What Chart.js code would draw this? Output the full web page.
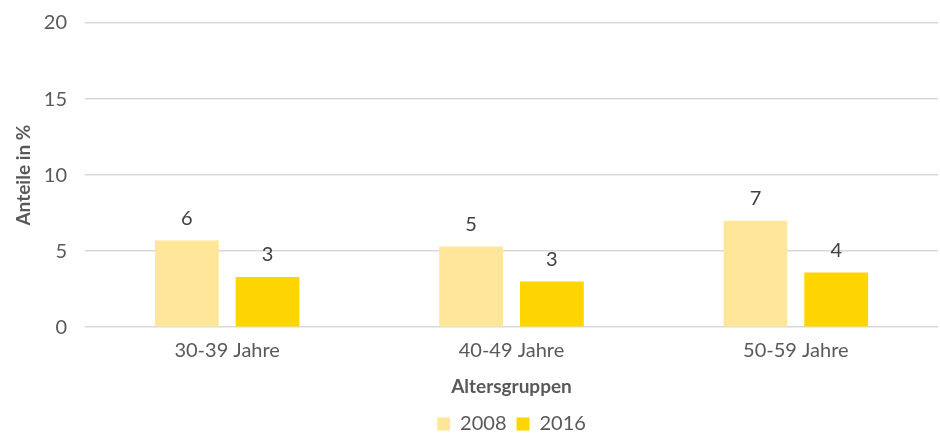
<!DOCTYPE html>
<html>
<head>
<meta charset="utf-8">
<script src="https://cdn.jsdelivr.net/npm/chart.js@4/dist/chart.umd.min.js"></script>
<style>
  html, body { margin: 0; padding: 0; background: #ffffff; }
  #wrap { width: 940px; height: 434px; }
</style>
</head>
<body>
<div id="wrap"><canvas id="c" width="940" height="434"></canvas></div>
<script>
// Age groups and shares (%) per survey year
const categories = ['30-39 Jahre', '40-49 Jahre', '50-59 Jahre'];
const share2008 = [5.7, 5.3, 7.0];
const share2016 = [3.3, 3.0, 3.6];
const seriesNames = ['2008', '2016'];
const yTicks = [0, 5, 10, 15, 20];

const FONT = 'Lato, "Open Sans", sans-serif';
const TEXT = '#595959';

// Writes the rounded value above each bar
const valueLabels = {
  id: 'valueLabels',
  afterDatasetsDraw(chart) {
    const ctx = chart.ctx;
    ctx.save();
    ctx.font = '20px ' + FONT;
    ctx.fillStyle = '#404040';
    ctx.textAlign = 'center';
    ctx.textBaseline = 'bottom';
    chart.data.datasets.forEach((ds, i) => {
      chart.getDatasetMeta(i).data.forEach((bar, j) => {
        ctx.fillText(String(Math.round(ds.data[j])), bar.x, bar.y - 12);
      });
    });
    ctx.restore();
  }
};

new Chart(document.getElementById('c'), {
  type: 'bar',
  data: {
    labels: categories,
    datasets: [
      { label: seriesNames[0], data: share2008, backgroundColor: '#FFE699' },
      { label: seriesNames[1], data: share2016, backgroundColor: '#FFD500' }
    ]
  },
  options: {
    responsive: false,
    animation: false,
    layout: { padding: { top: 23, right: 2, left: 4, bottom: -10 } },
    datasets: { bar: { categoryPercentage: 0.568, barPercentage: 0.79 } },
    scales: {
      x: {
        grid: { display: false, drawTicks: false },
        border: { display: false },
        ticks: { color: TEXT, font: { family: FONT, size: 20 }, padding: 11 },
        title: { display: true, text: 'Altersgruppen', color: TEXT,
                 font: { family: FONT, size: 19, weight: 'bold' }, padding: { top: 2, bottom: 6 } }
      },
      y: {
        min: 0, max: 20,
        afterBuildTicks(axis) { axis.ticks = yTicks.map(v => ({ value: v })); },
        afterFit(axis) { axis.width = 81; axis.paddingTop = 0; },
        grid: { color: '#D9D9D9', lineWidth: 1.5, drawTicks: false },
        border: { display: false },
        ticks: { color: TEXT, font: { family: FONT, size: 20 }, padding: 18 },
        title: { display: true, text: 'Anteile in %', color: TEXT,
                 font: { family: FONT, size: 19, weight: 'bold' }, padding: { top: 8, bottom: 0 } }
      }
    },
    plugins: {
      legend: {
        position: 'bottom',
        fullSize: false,
        labels: { color: TEXT, font: { family: FONT, size: 20 }, boxWidth: 13, boxHeight: 13, padding: 10 }
      },
      tooltip: { enabled: false }
    }
  },
  plugins: [valueLabels]
});
</script>
</body>
</html>
